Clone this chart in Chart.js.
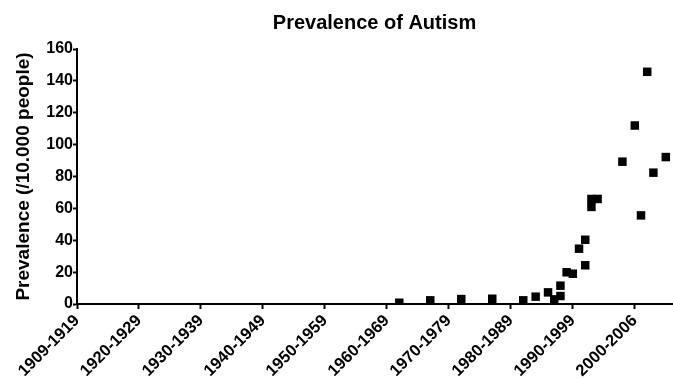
<!DOCTYPE html>
<html>
<head>
<meta charset="utf-8">
<script src="https://cdn.jsdelivr.net/npm/chart.js@4.4.1/dist/chart.umd.min.js"></script>
<style>
html,body{margin:0;padding:0;background:#fff;}
#wrap{width:673px;height:380px;}
</style>
</head>
<body>
<div id="wrap"><canvas id="c" width="673" height="380"></canvas></div>
<script>
const chartTitle = 'Prevalence of Autism';
const yTitle = 'Prevalence (/10.000 people)';
const periodLabels = ['1909-1919','1920-1929','1930-1939','1940-1949','1950-1959','1960-1969','1970-1979','1980-1989','1990-1999','2000-2006'];
const periodStarts = [1910,1920,1930,1940,1950,1960,1970,1980,1990,2000];
const studyYears = [1962,1967,1972,1977,1982,1984,1986,1987,1988,1988,1989,1990,1991,1992,1992,1993,1993,1994,1998,2000,2001,2002,2003,2005];
const prevalence = [0.8,2.3,3.1,3.3,2.3,4.6,7.3,2.9,5.0,11.5,19.9,19.0,34.7,40.3,24.3,65.9,60.9,65.9,89.3,112,55.6,145.7,82.4,92.2];
const yTicks = [0,20,40,60,80,100,120,140,160];

const font = 'Liberation Sans, Arial, Helvetica, sans-serif';
const points = studyYears.map((x,i)=>({x:x,y:prevalence[i]}));

new Chart(document.getElementById('c'), {
  type: 'scatter',
  data: { datasets: [{
    data: points,
    pointStyle: 'rect',
    pointRadius: 6,
    pointHoverRadius: 6,
    backgroundColor: '#000',
    borderColor: '#000',
    borderWidth: 0
  }]},
  options: {
    responsive: false,
    devicePixelRatio: 1,
    animation: false,
    layout: { autoPadding: false, padding: { left: 0, right: 1, top: 0, bottom: 0 } },
    plugins: {
      legend: { display: false },
      tooltip: { enabled: false },
      title: {
        display: true,
        text: chartTitle,
        fullSize: false,
        color: '#000',
        font: { family: font, size: 20, weight: 'bold' },
        padding: { top: 11, bottom: 14 }
      }
    },
    scales: {
      x: {
        type: 'linear',
        min: 1910,
        max: 2006,
        afterBuildTicks: s => { s.ticks = periodStarts.map(v => ({ value: v })); },
        afterFit: s => { s.height = 76; s.paddingRight = 0; s.paddingLeft = 0; },
        border: { display: true, color: '#000', width: 2 },
        grid: { drawOnChartArea: false, drawTicks: true, tickLength: 5, tickWidth: 2, tickColor: '#000', color: '#000' },
        ticks: {
          autoSkip: false,
          maxRotation: 45,
          minRotation: 45,
          padding: 2,
          color: '#000',
          font: { family: font, size: 16.5, weight: 'bold' },
          callback: v => { const i = periodStarts.indexOf(v); return i >= 0 ? periodLabels[i] : ''; }
        }
      },
      y: {
        type: 'linear',
        min: 0,
        max: 160,
        afterBuildTicks: s => { s.ticks = yTicks.map(v => ({ value: v })); },
        afterFit: s => { s.width = 77; },
        border: { display: true, color: '#000', width: 2 },
        grid: { drawOnChartArea: false, drawTicks: true, tickLength: 4, tickWidth: 2, tickColor: '#000', color: '#000' },
        ticks: {
          padding: 0,
          color: '#000',
          font: { family: font, size: 16, weight: 'bold' }
        },
        title: {
          display: true,
          text: yTitle,
          color: '#000',
          font: { family: font, size: 19, weight: 'bold' },
          padding: { top: 12, bottom: 0 }
        }
      }
    }
  }
});
</script>
</body>
</html>
